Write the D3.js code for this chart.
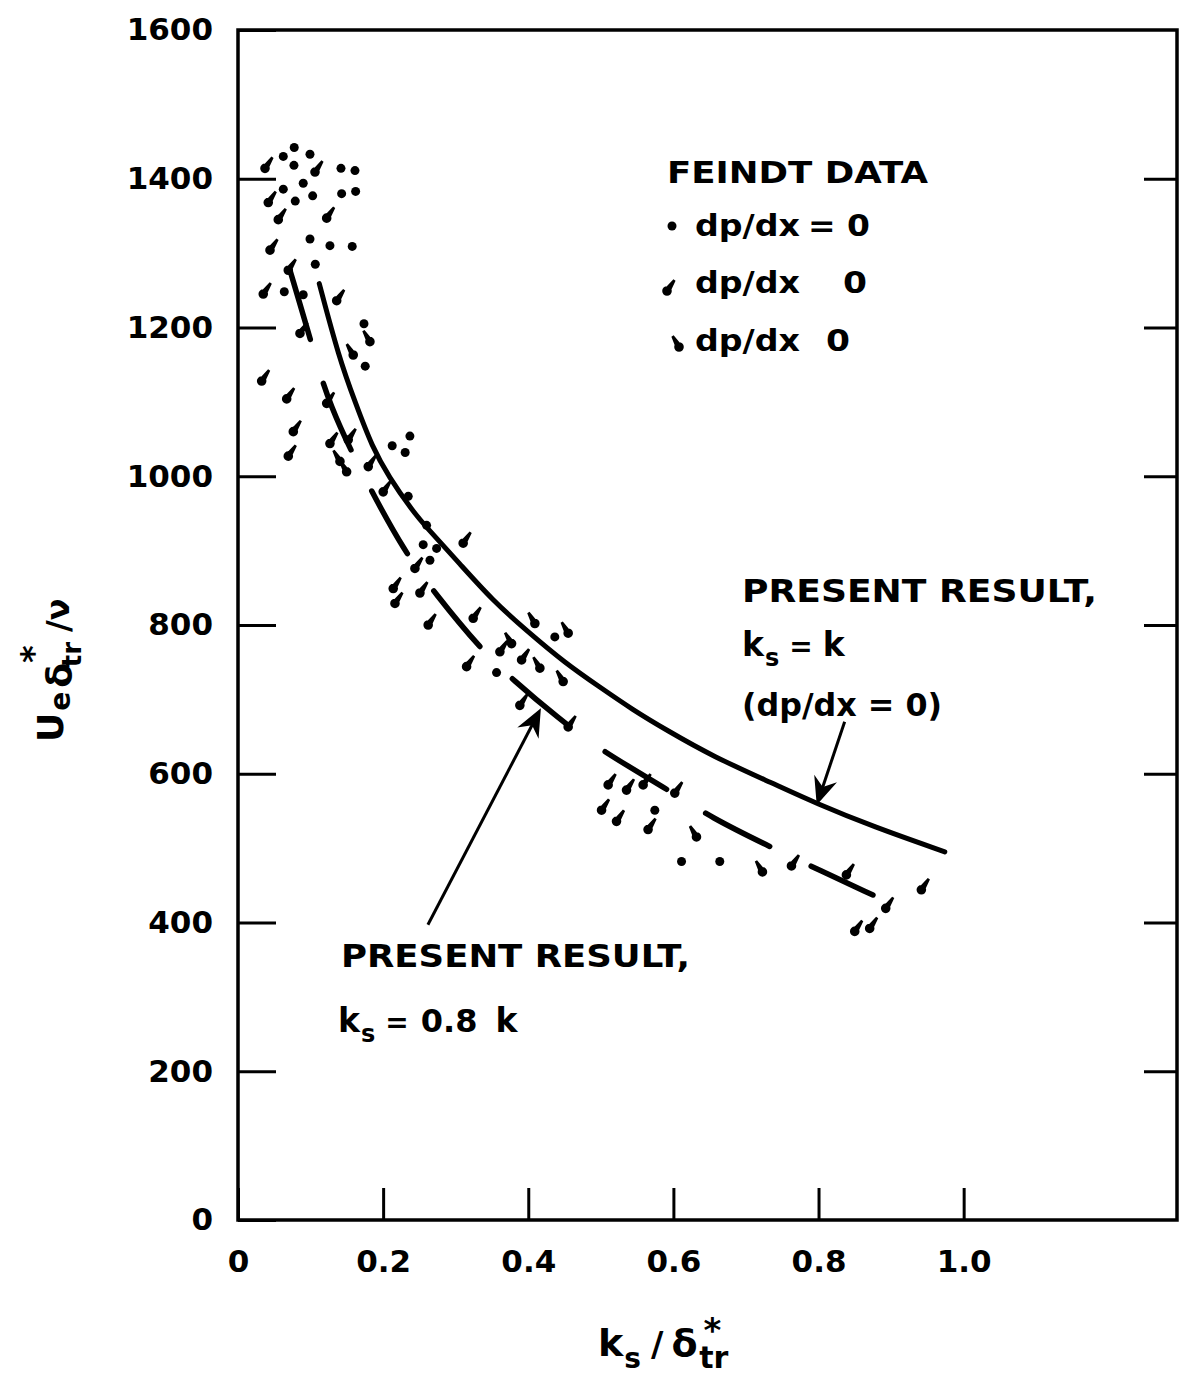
<!DOCTYPE html>
<html><head><meta charset="utf-8">
<script src="https://cdn.jsdelivr.net/npm/d3@7/dist/d3.min.js"></script>
<style>
body{margin:0;background:#fff}
svg{display:block}
text{font-family:"DejaVu Sans","Liberation Sans",sans-serif;font-weight:bold;fill:#000}
</style></head><body>
<svg id="chart" width="1186" height="1380"></svg>
<script>
// ---------- data ----------
const xTickValues=[0,0.2,0.4,0.6,0.8,1.0];
const xTickLabels=["0","0.2","0.4","0.6","0.8","1.0"];
const yTickValues=[0,200,400,600,800,1000,1200,1400,1600];
const yTickLabels=["0","200","400","600","800","1000","1200","1400","1600"];

// Present result, ks = k (solid)
const solidX=[0.112,0.139,0.162,0.185,0.208,0.240,0.259,0.305,0.351,0.397,0.452,0.498,0.544,0.590,0.655,0.737,0.797,0.875,0.974];
const solidY=[1259,1160,1098,1039,999,954,932,883,833,793,748,717,686,659,623,587,560,529,495];
// Present result, ks = 0.8k (long dash)
const dashX=[0.0716,0.1015,0.124,0.179,0.230,0.271,0.336,0.379,0.441,0.499,0.599,0.650,0.737,0.802,0.875];
const dashY=[1277,1179,1098,988,898,843,766,726,675,632,575,542,500,470,437];

// Feindt data, dp/dx = 0 (dots)
const zeroX=[0.0775,0.0624,0.0992,0.0771,0.1419,0.1612,0.0899,0.0624,0.1029,0.0789,0.1428,0.1621,0.0992,0.1267,0.1574,0.1065,0.0638,0.0899,0.1736,0.1753,0.2125,0.2369,0.2304,0.2346,0.2599,0.2552,0.2645,0.2737,0.4366,0.3563,0.5744,0.6112,0.6639];
const zeroY=[1442,1430,1433,1418,1414,1411,1394,1386,1377,1370,1380,1383,1319,1310,1309,1285,1248,1244,1205,1148,1041,1054,1032,973,934,908,887,903,784,736,551,482,482];
// Feindt data, dp/dx < 0 (tail up-right)
const negX=[0.0372,0.1061,0.0417,0.0555,0.1222,0.0441,0.0693,0.0348,0.1360,0.0854,0.0326,0.0671,0.0762,0.0693,0.1222,0.1267,0.1519,0.1795,0.2001,0.3103,0.2438,0.2139,0.2163,0.2507,0.3241,0.2621,0.3609,0.3908,0.3150,0.3884,0.4550,0.5101,0.5354,0.5583,0.6019,0.5010,0.5216,0.5651,0.7627,0.8384,0.9417,0.8926,0.8499,0.8705];
const negY=[1414,1409,1368,1345,1347,1304,1277,1245,1236,1192,1128,1104,1060,1027,1098,1044,1049,1013,979,910,876,849,829,843,809,800,764,753,744,692,663,585,578,585,574,551,536,525,476,464,444,419,388,392];
// Feindt data, dp/dx > 0 (tail up-left)
const posX=[0.1818,0.1588,0.1405,0.1497,0.4091,0.4550,0.3770,0.4160,0.4481,0.6318,0.7227];
const posY=[1181,1163,1020,1006,802,789,775,742,724,515,468];

// ---------- layout ----------
const W=1186,H=1380;
const frame={left:238,right:1177,top:30,bottom:1220};
const xMax=1.294,yMax=1600;
const x=d3.scaleLinear().domain([0,xMax]).range([frame.left,frame.right]);
const y=d3.scaleLinear().domain([0,yMax]).range([frame.bottom,frame.top]);
const svg=d3.select("#chart");
svg.append("rect").attr("width",W).attr("height",H).attr("fill","#fff");

// axes (ticks pointing inward)
const gx=svg.append("g").attr("transform",`translate(0,${frame.bottom})`)
  .call(d3.axisBottom(x).tickValues(xTickValues).tickFormat((d,i)=>xTickLabels[i])
  .tickSizeInner(-32).tickSizeOuter(0).tickPadding(30));
const gy=svg.append("g").attr("transform",`translate(${frame.left},0)`)
  .call(d3.axisLeft(y).tickValues(yTickValues).tickFormat((d,i)=>yTickLabels[i])
  .tickSizeInner(-38).tickSizeOuter(0).tickPadding(25));
const gr=svg.append("g").attr("transform",`translate(${frame.right},0)`)
  .call(d3.axisRight(y).tickValues(yTickValues.slice(1,-1)).tickFormat(()=>"")
  .tickSizeInner(-33).tickSizeOuter(0));
[gx,gy,gr].forEach(g=>{
  g.attr("font-family",null).attr("font-size",null);
  g.select(".domain").remove();
  g.selectAll(".tick line").attr("stroke","#000").attr("stroke-width",3);
  g.selectAll(".tick text").attr("font-size",31).attr("fill","#000");
});
svg.append("rect").attr("x",x(0)).attr("y",y(yMax))
  .attr("width",x(xMax)-x(0)).attr("height",y(0)-y(yMax))
  .attr("fill","none").attr("stroke","#000").attr("stroke-width",3.5);

// curves
const line=d3.line().x(d=>x(d[0])).y(d=>y(d[1])).curve(d3.curveBasis);
svg.append("path").datum(solidX.map((v,i)=>[v,solidY[i]]))
  .attr("d",line).attr("fill","none").attr("stroke","#000").attr("stroke-width",5).attr("stroke-linecap","round");
svg.append("path").datum(dashX.map((v,i)=>[v,dashY[i]]))
  .attr("d",line).attr("fill","none").attr("stroke","#000").attr("stroke-width",5.5)
  .attr("stroke-dasharray","72,46").attr("stroke-linecap","round");

// markers
function tadpole(dx,dy){
  const r=4.8,len=Math.hypot(dx,dy),ux=dx/len,uy=dy/len,nx=-uy,ny=ux,b=3.4,t=1.3;
  const p=[[nx*b,ny*b],[dx+nx*t,dy+ny*t],[dx-nx*t,dy-ny*t],[-nx*b,-ny*b]];
  return `M${r},0A${r},${r} 0 1 0 ${-r},0A${r},${r} 0 1 0 ${r},0Z`+
    "M"+p.map(q=>q[0].toFixed(2)+","+q[1].toFixed(2)).join("L")+"Z";
}
const tailUR=tadpole(7.5,-11), tailUL=tadpole(-6.5,-11);
svg.append("g").selectAll("circle").data(zeroX.map((v,i)=>[v,zeroY[i]])).join("circle")
  .attr("cx",d=>x(d[0])).attr("cy",d=>y(d[1])).attr("r",4.5).attr("fill","#000");
svg.append("g").selectAll("path").data(negX.map((v,i)=>[v,negY[i]])).join("path")
  .attr("d",tailUR).attr("transform",d=>`translate(${x(d[0])},${y(d[1])})`).attr("fill","#000");
svg.append("g").selectAll("path").data(posX.map((v,i)=>[v,posY[i]])).join("path")
  .attr("d",tailUL).attr("transform",d=>`translate(${x(d[0])},${y(d[1])})`).attr("fill","#000");

// text helpers
function txt(s,px,py,fs,len){
  const t=svg.append("text").attr("x",px).attr("y",py).attr("font-size",fs).text(s);
  if(len) t.attr("textLength",len).attr("lengthAdjust","spacingAndGlyphs");
  return t;
}
// parts: [string, fontSize, dx, dy]
function rich(parent,px,py,parts){
  const t=parent.append("text").attr("x",px).attr("y",py);
  parts.forEach(p=>t.append("tspan").attr("font-size",p[1]).attr("dx",p[2]||0).attr("dy",p[3]||0).text(p[0]));
  return t;
}

// legend
txt("FEINDT DATA",667,183,31,261);
svg.append("circle").attr("cx",672).attr("cy",226).attr("r",4.5).attr("fill","#000");
txt("dp/dx",695,236,31,105); txt("= 0",808,236,31,62);
svg.append("path").attr("d",tailUR).attr("transform","translate(667,291)").attr("fill","#000");
txt("dp/dx",695,293,31,105); txt("0",843,293,31,24);
svg.append("path").attr("d",tailUL).attr("transform","translate(679,347)").attr("fill","#000");
txt("dp/dx",695,351,31,105); txt("0",826,351,31,24);

// annotations
txt("PRESENT RESULT,",742,602,32,355);
rich(svg,742,656,[["k",33],["s",24,1,10],["=",28,10,-10],["k",33,10]]);
txt("(dp/dx = 0)",742,716,32,200);
txt("PRESENT RESULT,",341,967,32,349);
rich(svg,338,1032,[["k",33],["s",24,1,10],["=",28,10,-10],["0.8",32,12],["k",33,18]]);

function arrow(from,to){
  const x1=x(from[0]),y1=y(from[1]),x2=x(to[0]),y2=y(to[1]);
  const L=Math.hypot(x2-x1,y2-y1),ux=(x2-x1)/L,uy=(y2-y1)/L,nx=-uy,ny=ux;
  const hl=28,hw=12,notch=9;
  svg.append("line").attr("x1",x1).attr("y1",y1).attr("x2",x2-ux*notch*1.5).attr("y2",y2-uy*notch*1.5)
    .attr("stroke","#000").attr("stroke-width",3);
  const bx=x2-ux*hl,by=y2-uy*hl;
  const pts=[[x2,y2],[bx+nx*hw,by+ny*hw],[bx+ux*notch,by+uy*notch],[bx-nx*hw,by-ny*hw]];
  svg.append("path").attr("d","M"+pts.map(p=>p.join(",")).join("L")+"Z").attr("fill","#000");
}
arrow([0.836,670],[0.7975,558]);
arrow([0.2617,397],[0.4174,688]);

// axis titles
const yt=svg.append("g").attr("transform","rotate(-90)");
rich(yt,-742,63,[["U",36],["e",28,2,7],["δ",36,4,2],["*",34,0,-27],["tr",26,-22,36],["/ν",32,10,-12]]);
rich(svg,598,1356,[["k",38],["s",28,1,12],["/",34,10,-12],["δ",38,8,0],["*",34,6,-14],["tr",30,-22,26]]);
</script>
</body></html>
